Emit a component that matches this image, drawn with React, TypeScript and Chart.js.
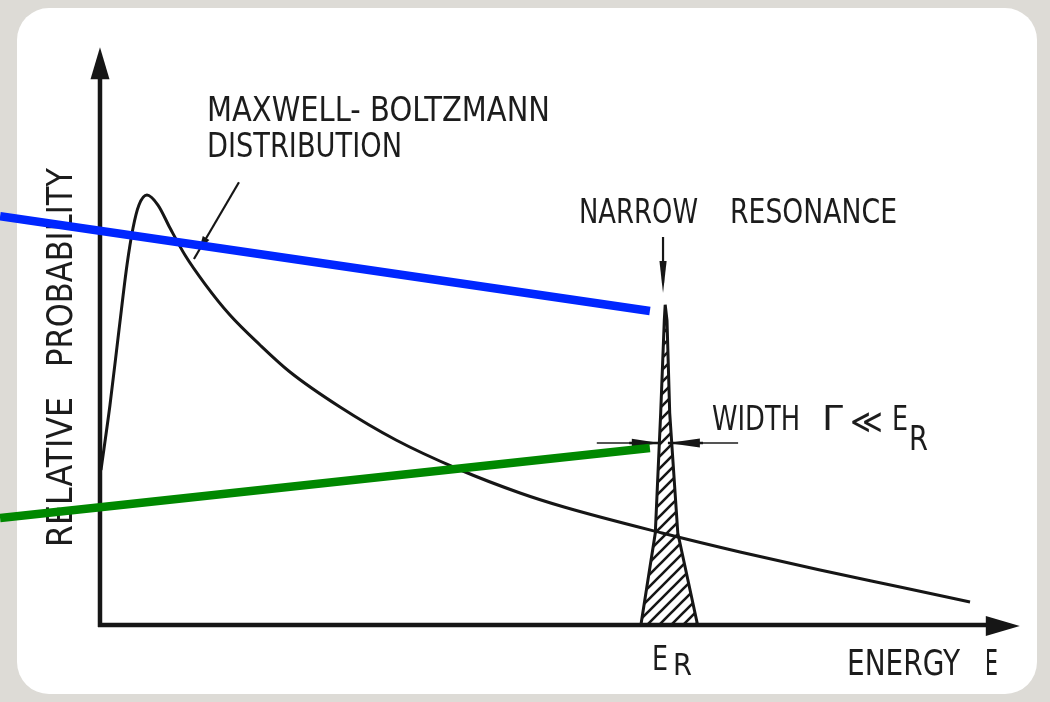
import React, { useEffect, useRef } from 'react';
import { Chart, registerables } from 'chart.js';

Chart.register(...registerables);

// ---- Data (energy in arbitrary units, relative probability 0..100) ----
// The curve leaves the vertical axis at about 27 (below that it runs along the axis line).
const mbEnergy = [0.11, 1.11, 2.11, 3.0, 3.67, 4.33, 5.22, 6.44, 7.78, 9.44, 11.67, 14.44, 17.78, 21.11, 26.67, 32.89, 39.78, 46.67, 51.56, 62.44, 71.11, 80.0, 88.89, 96.67];
const mbProb = [26.96, 38.26, 51.3, 62.61, 69.04, 73.04, 74.78, 73.04, 69.04, 64.35, 59.3, 53.91, 48.7, 44.0, 37.91, 32.17, 27.13, 22.96, 20.52, 16.0, 12.7, 9.57, 6.61, 4.0];

const resEnergy = [60.1, 61.7, 62.3, 62.7, 62.8, 63.0, 63.3, 64.2, 66.4];
const resProb = [0, 16.0, 36.9, 53.0, 55.7, 53.0, 36.9, 16.0, 0];

const blueEnergy = [-11.1, 61.1];
const blueProb = [71.1, 54.6];
const greenEnergy = [-11.1, 61.1];
const greenProb = [18.6, 30.8];

const X_MIN = -11.11;
const X_MAX = 100;
const Y_MIN = 0;
const Y_MAX = 100;

const yAxisLabelParts = ['RELATIVE', 'PROBABILITY'];
const xAxisLabelParts = ['ENERGY', 'E'];
const mbLabelLines = ['MAXWELL- BOLTZMANN', 'DISTRIBUTION'];
const resLabelParts = ['NARROW', 'RESONANCE'];
const widthLabelParts = ['WIDTH', 'Γ', '≪', 'E', 'R'];
const erLabelParts = ['E', 'R'];

const INK = '#161616';
const FONT = '"DejaVu Sans", "Liberation Sans", sans-serif';

const toPts = (xs: number[], ys: number[]) => xs.map((x, i) => ({ x, y: ys[i] }));

function makeHatch(ctx: CanvasRenderingContext2D) {
  const pc = document.createElement('canvas');
  pc.width = 12;
  pc.height = 12;
  const p = pc.getContext('2d')!;
  p.strokeStyle = INK;
  p.lineWidth = 2.6;
  p.beginPath();
  p.moveTo(-3, 15); p.lineTo(15, -3);
  p.moveTo(-3, 3); p.lineTo(3, -3);
  p.moveTo(9, 15); p.lineTo(15, 9);
  p.stroke();
  return ctx.createPattern(pc, 'repeat');
}

function arrowHead(ctx: CanvasRenderingContext2D, tx: number, ty: number, dx: number, dy: number, len: number, hw: number) {
  const m = Math.hypot(dx, dy);
  const ux = dx / m, uy = dy / m;
  const bx = tx - ux * len, by = ty - uy * len;
  ctx.beginPath();
  ctx.moveTo(tx, ty);
  ctx.lineTo(bx - uy * hw, by + ux * hw);
  ctx.lineTo(bx + uy * hw, by - ux * hw);
  ctx.closePath();
  ctx.fill();
}

function fitText(ctx: CanvasRenderingContext2D, text: string, x: number, y: number, w: number, size: number) {
  ctx.save();
  ctx.font = `${size}px ${FONT}`;
  const m = ctx.measureText(text).width;
  ctx.translate(x, y);
  ctx.scale(w / m, 1);
  ctx.fillText(text, 0, 0);
  ctx.restore();
}

const decorPlugin = {
  id: 'decor',
  beforeDatasetsDraw(chart: any) {
    const ctx: CanvasRenderingContext2D = chart.ctx;
    const X = (v: number) => chart.scales.x.getPixelForValue(v);
    const Y = (v: number) => chart.scales.y.getPixelForValue(v);
    ctx.save();
    ctx.strokeStyle = INK;
    ctx.fillStyle = INK;
    ctx.lineCap = 'butt';

    // Maxwell-Boltzmann pointer
    ctx.lineWidth = 2.2;
    ctx.beginPath();
    ctx.moveTo(X(15.44), Y(77.0));
    ctx.lineTo(X(10.44), Y(63.65));
    ctx.stroke();
    arrowHead(ctx, X(11.0), Y(65.2), X(10.44) - X(15.44), Y(63.65) - Y(77.0), 14, 3.8);

    // Narrow resonance pointer
    ctx.lineWidth = 2.2;
    ctx.beginPath();
    ctx.moveTo(X(62.56), Y(67.48));
    ctx.lineTo(X(62.56), Y(59.5));
    ctx.stroke();
    arrowHead(ctx, X(62.56), Y(57.74), 0, 1, 32, 3.6);

    // width dimension arrows
    const yw = Y(31.65);
    ctx.strokeStyle = '#555';
    ctx.lineWidth = 2;
    ctx.beginPath();
    ctx.moveTo(X(55.2), yw);
    ctx.lineTo(X(59.0), yw);
    ctx.moveTo(X(66.7), yw);
    ctx.lineTo(X(70.9), yw);
    ctx.stroke();
    ctx.strokeStyle = INK;
    ctx.lineWidth = 2.4;
    ctx.beginPath();
    ctx.moveTo(X(58.8), yw);
    ctx.lineTo(X(62.2), yw);
    ctx.moveTo(X(63.1), yw);
    ctx.lineTo(X(67.0), yw);
    ctx.stroke();
    arrowHead(ctx, X(62.2), yw, 1, 0, 28, 4.2);
    arrowHead(ctx, X(63.1), yw, -1, 0, 32, 4.5);

    // texts
    ctx.fillStyle = '#1c1c1c';
    ctx.textBaseline = 'alphabetic';
    fitText(ctx, mbLabelLines[0], X(11.89), Y(87.65), 343, 34);
    fitText(ctx, mbLabelLines[1], X(11.89), Y(81.39), 195, 34);
    fitText(ctx, resLabelParts[0], X(53.22), Y(69.91), 119, 34);
    fitText(ctx, resLabelParts[1], X(70.0), Y(69.91), 167, 34);
    fitText(ctx, widthLabelParts[0], X(68.0), Y(33.91), 88, 34);
    fitText(ctx, widthLabelParts[1], X(80.22), Y(33.91), 21, 34);
    fitText(ctx, widthLabelParts[2], X(83.33), Y(33.4), 33, 34);
    fitText(ctx, widthLabelParts[3], X(88.0), Y(33.91), 16, 34);
    fitText(ctx, widthLabelParts[4], X(89.89), Y(30.43), 19, 34);
    fitText(ctx, erLabelParts[0], X(61.33), Y(-7.83), 16, 33);
    fitText(ctx, erLabelParts[1], X(63.67), Y(-8.7), 19, 31);
    fitText(ctx, xAxisLabelParts[0], X(83.0), Y(-8.7), 113, 36);
    fitText(ctx, xAxisLabelParts[1], X(98.33), Y(-8.7), 13, 36);

    ctx.save();
    ctx.translate(X(-3.11), Y(13.57));
    ctx.rotate(-Math.PI / 2);
    fitText(ctx, yAxisLabelParts[0], 0, 0, 150, 36);
    fitText(ctx, yAxisLabelParts[1], 180, 0, 199, 36);
    ctx.restore();

    ctx.restore();
  },
  afterDatasetDraw(chart: any, args: any) {
    // axes drawn right after the Maxwell-Boltzmann curve, beneath the overlay lines
    if (args.index !== 3) return;
    const ctx: CanvasRenderingContext2D = chart.ctx;
    const X = (v: number) => chart.scales.x.getPixelForValue(v);
    const Y = (v: number) => chart.scales.y.getPixelForValue(v);
    ctx.save();
    ctx.strokeStyle = INK;
    ctx.fillStyle = INK;
    ctx.lineCap = 'butt';
    const x0 = X(0), y0 = Y(0);
    ctx.lineWidth = 4.5;
    ctx.beginPath();
    ctx.moveTo(x0, y0 + 2);
    ctx.lineTo(x0, Y(100.5) + 20);
    ctx.moveTo(x0 - 2, y0);
    ctx.lineTo(X(102.2) - 20, y0);
    ctx.stroke();
    arrowHead(ctx, x0, Y(100.5), 0, -1, 32, 9.5);
    arrowHead(ctx, X(102.2), y0 + 1, 1, 0, 34, 10);
    ctx.restore();
  },
};

export default function App() {
  const ref = useRef<HTMLCanvasElement | null>(null);

  useEffect(() => {
    const canvas = ref.current!;
    const ctx = canvas.getContext('2d')!;
    const hatch = makeHatch(ctx);
    const chart = new Chart(ctx, {
      type: 'scatter',
      data: {
        datasets: [
          {
            label: 'blue',
            data: toPts(blueEnergy, blueProb),
            showLine: true,
            borderColor: '#0026ff',
            borderWidth: 8.5,
            pointRadius: 0,
            borderCapStyle: 'butt',
            tension: 0,
          },
          {
            label: 'green',
            data: toPts(greenEnergy, greenProb),
            showLine: true,
            borderColor: '#008800',
            borderWidth: 8.5,
            pointRadius: 0,
            borderCapStyle: 'butt',
            tension: 0,
          },
          {
            label: 'Narrow resonance',
            data: toPts(resEnergy, resProb),
            showLine: true,
            borderColor: INK,
            borderWidth: 3,
            pointRadius: 0,
            tension: 0,
            fill: 'origin',
            backgroundColor: hatch as any,
          },
          {
            label: 'Maxwell-Boltzmann distribution',
            data: toPts(mbEnergy, mbProb),
            showLine: true,
            borderColor: INK,
            borderWidth: 3,
            pointRadius: 0,
            cubicInterpolationMode: 'monotone',
            fill: false,
          },
        ],
      },
      options: {
        responsive: false,
        animation: false,
        events: [],
        layout: { padding: { left: 0, right: 50, top: 50, bottom: 77 } },
        plugins: {
          legend: { display: false },
          tooltip: { enabled: false },
          title: { display: false },
        },
        scales: {
          x: { type: 'linear', min: X_MIN, max: X_MAX, display: false },
          y: { type: 'linear', min: Y_MIN, max: Y_MAX, display: false },
        },
      },
      plugins: [decorPlugin],
    } as any);
    return () => chart.destroy();
  }, []);

  return (
    <div style={{ position: 'fixed', left: 0, top: 0, width: 1050, height: 702, background: '#dddbd6', overflow: 'hidden' }}>
      <div style={{ position: 'absolute', left: 17, top: 8, width: 1020, height: 686, background: '#ffffff', borderRadius: 32 }} />
      <canvas ref={ref} width={1050} height={702} style={{ position: 'absolute', left: 0, top: 0, width: 1050, height: 702 }} />
    </div>
  );
}
